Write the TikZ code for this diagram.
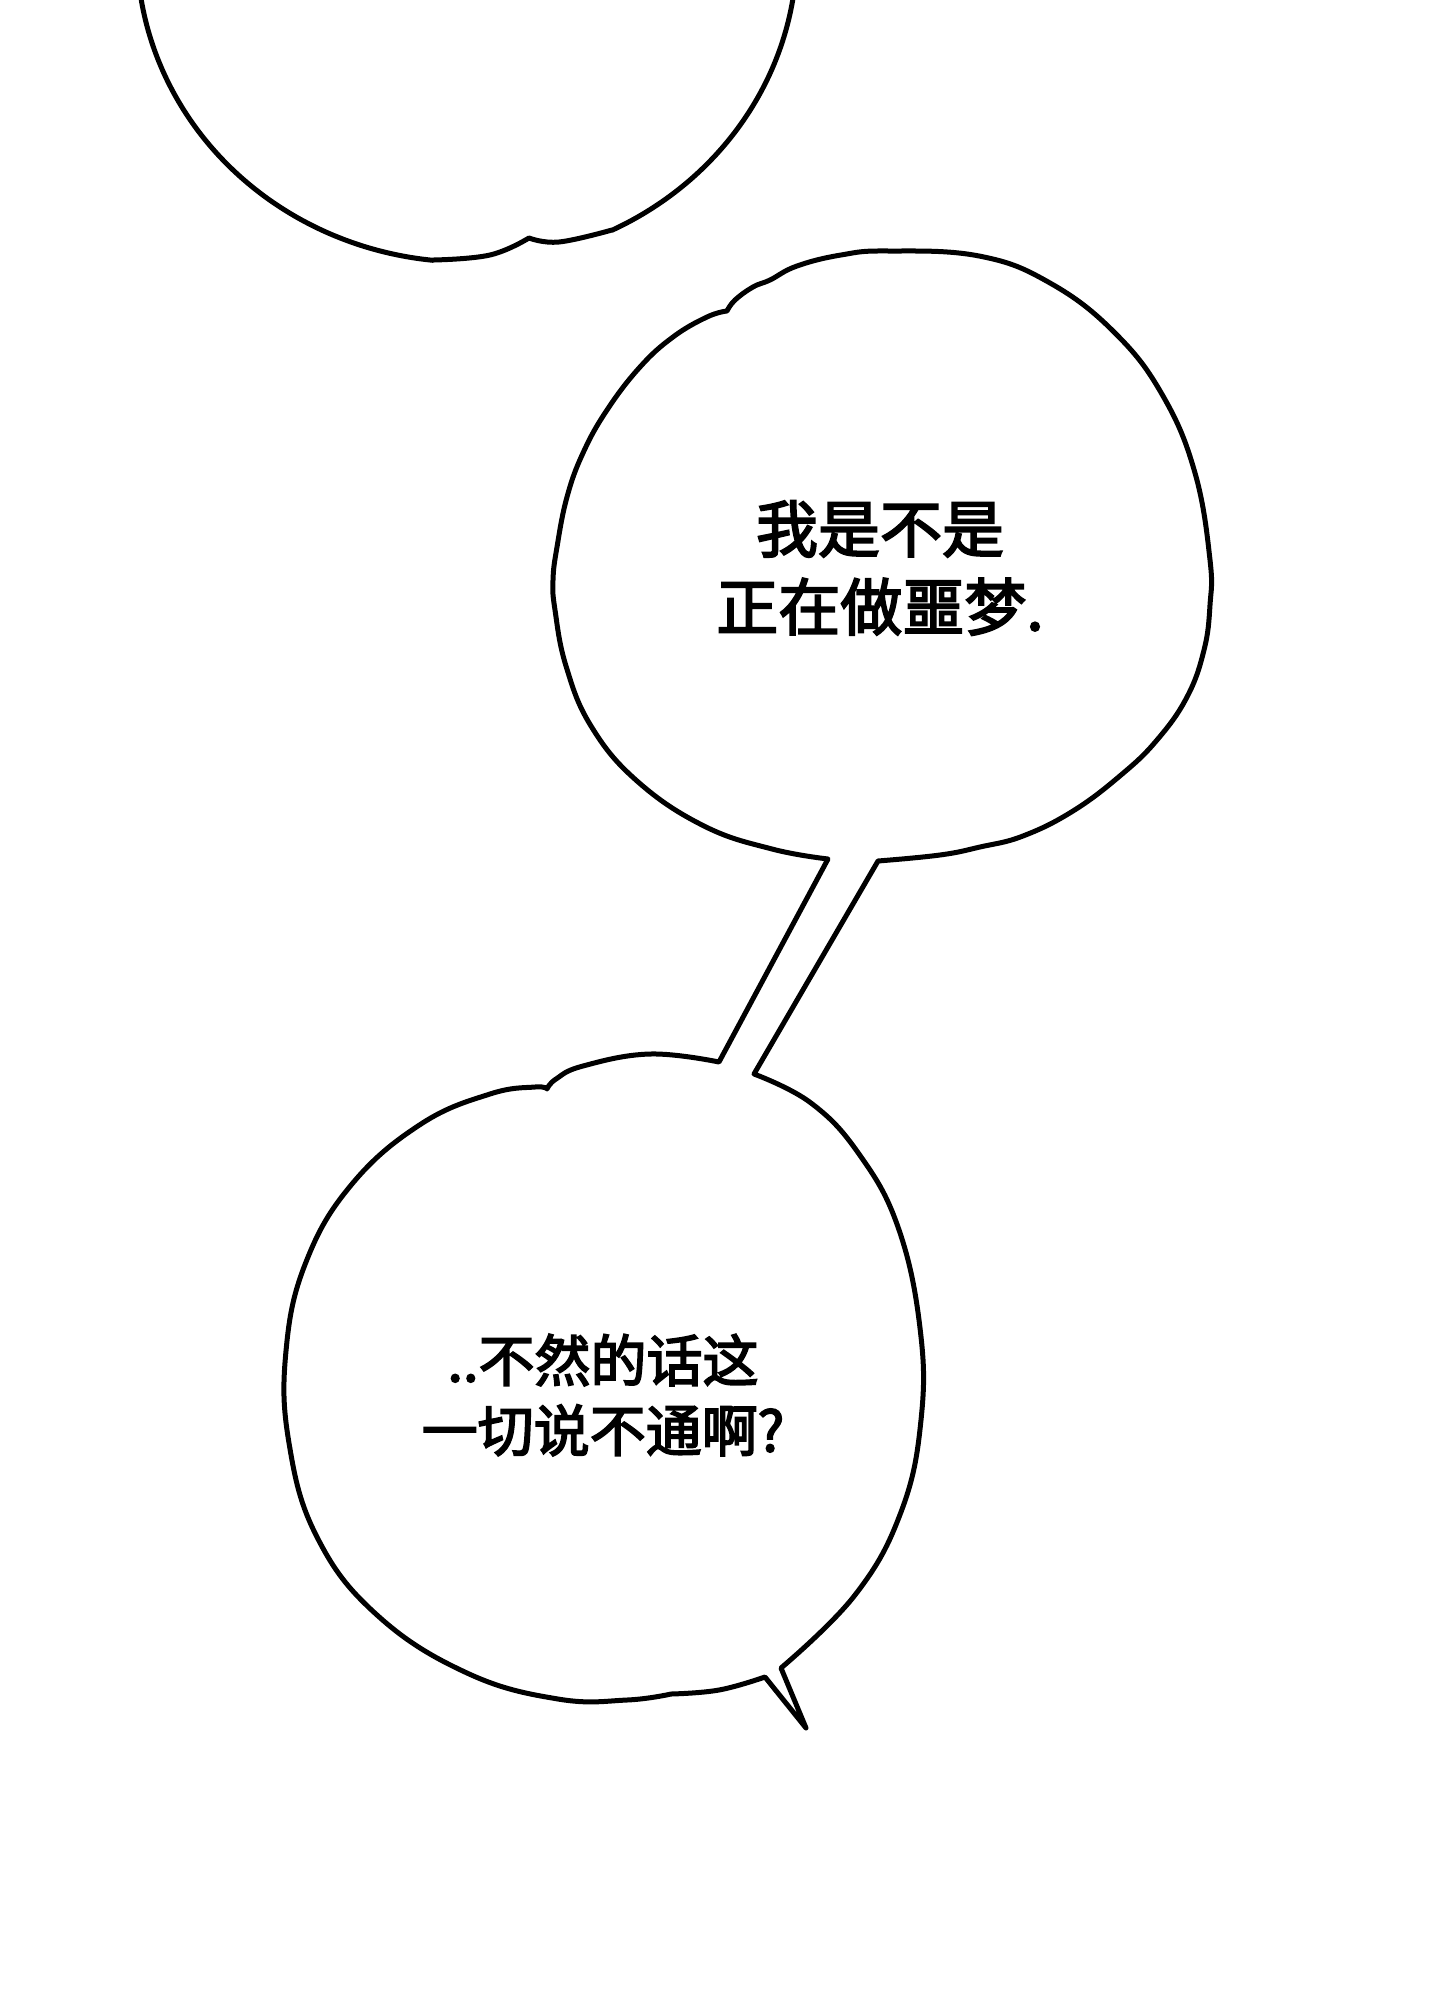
\documentclass[tikz,border=0pt]{standalone}
\usepackage{fontspec}
\newfontfamily\cjk[FakeBold = 3]{Noto Sans CJK SC}
\usepackage{tikz}
\usetikzlibrary{positioning}
\tikzset{
outline/.style = { draw = black, line width = 2.5pt, line join = round, line cap = round },
round part/.style = { smooth, tension = 0.7 },
speech big/.style = { font = \cjk\fontsize{31pt}{39pt}\selectfont, align = center, inner sep = 0pt },
speech small/.style = { font = \cjk\fontsize{28pt}{35pt}\selectfont, align = center, inner sep = 0pt },
}

\begin{document}
\begin{tikzpicture}[x = 0.5pt, y = -0.5pt]
      \fill[white] (0, 0) rectangle (1440, 2000);
      \useasboundingbox (0, 0) rectangle (1440, 2000);
      \clip (0, 0) rectangle (1440, 2000);
      % top bubble, cut by the page
      \path[outline] plot[domain = 176:96, samples = 40, smooth] ({467 + 330*cos(\x)}, {-50 + 312*sin(\x)})
          -- plot[round part] coordinates {(434, 260) (490, 255) (529, 238)}
          -- plot[round part] coordinates {(529, 238) (559, 242) (612, 230)}
          -- plot[domain = 64:4, samples = 40, smooth] ({467 + 330*cos(\x)}, {-50 + 312*sin(\x)});
      % middle and lower bubble, joined by the tail
      \path[outline] plot[round part] coordinates {(727, 311) (735, 300) (753, 287) (770, 280) (797, 266) (841, 255) (887, 251) (979, 256) (1050, 283) (1115, 333) (1163, 396) (1195, 473) (1210, 560) (1210, 605) (1204, 650) (1187, 697) (1157, 740) (1121, 775) (1073, 811) (1023, 836) (980, 847) (940, 855) (878, 861)}
          -- plot[round part] coordinates {(754, 1074) (811, 1103) (859, 1154) (898, 1227) (920, 1328) (921, 1420) (901, 1512) (855, 1595) (781, 1668)}
          -- (806, 1728)
          -- plot[round part] coordinates {(765, 1677) (719, 1690) (671, 1694)}
          -- plot[round part] coordinates {(671, 1694) (627, 1700) (558, 1699) (467, 1673) (377, 1615) (317, 1537) (289, 1443) (286, 1351) (306, 1262) (352, 1184) (421, 1124) (490, 1094) (535, 1087) (547, 1089)}
          -- plot[round part] coordinates {(547, 1089) (556, 1079) (583, 1066) (650, 1054) (719, 1062)}
          -- plot[round part] coordinates {(828, 859) (772, 849) (704, 826) (637, 781) (591, 726) (566, 666) (555, 610) (553, 580) (557, 547) (567, 497) (583, 453) (607, 410) (640, 367) (673, 337) (707, 317) (727, 311)} -- cycle;
      \node[speech big] (dream) at (880, 568) {我是不是\\正在做噩梦.};
      \node[speech small] (doubt) at (603, 1395) {..不然的话这\\一切说不通啊?};
\end{tikzpicture}
\end{document}
